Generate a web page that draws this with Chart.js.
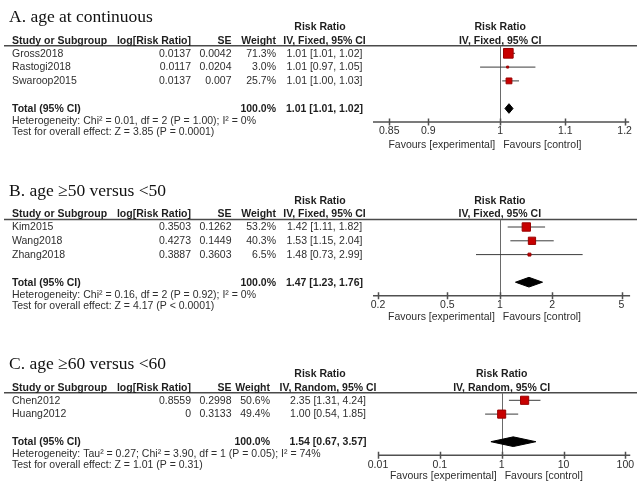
<!DOCTYPE html>
<html>
<head>
<meta charset="utf-8">
<script src="https://cdn.jsdelivr.net/npm/chart.js@4.4.1/dist/chart.umd.min.js"></script>
<style>
  html, body { margin: 0; padding: 0; background: #fff; }
  #wrap { position: relative; width: 637px; height: 483px; overflow: hidden; background: #fff; }
  #wrap canvas { position: absolute; left: 0; }
</style>
</head>
<body>
<div id="wrap">
  <canvas id="panelA" width="637" height="160" style="top:0px"></canvas>
  <canvas id="panelB" width="637" height="165" style="top:160px"></canvas>
  <canvas id="panelC" width="637" height="158" style="top:325px"></canvas>
</div>
<script>
// ---- A. age as a continuous variable ----
const studiesA = ['Gross2018', 'Rastogi2018', 'Swaroop2015'];
const logRrA = [0.0137, 0.0117, 0.0137];
const seA = [0.0042, 0.0204, 0.007];
const weightA = [71.3, 3.0, 25.7];
const rrA = [1.012, 1.011, 1.013];
const lowerA = [1.006, 0.971, 1.003];
const upperA = [1.022, 1.053, 1.028];
const totalA = [1.013, 1.007, 1.019];       // pooled estimate, lower, upper
const ticksA = [0.85, 0.9, 1, 1.1, 1.2];
const hetA = 'Heterogeneity: Chi² = 0.01, df = 2 (P = 1.00); I² = 0%';
const overallA = 'Test for overall effect: Z = 3.85 (P = 0.0001)';

// ---- B. age >=50 versus <50 ----
const studiesB = ['Kim2015', 'Wang2018', 'Zhang2018'];
const logRrB = [0.3503, 0.4273, 0.3887];
const seB = [0.1262, 0.1449, 0.3603];
const weightB = [53.2, 40.3, 6.5];
const rrB = [1.42, 1.53, 1.48];
const lowerB = [1.11, 1.15, 0.73];
const upperB = [1.82, 2.04, 2.99];
const totalB = [1.47, 1.23, 1.76];
const ticksB = [0.2, 0.5, 1, 2, 5];
const hetB = 'Heterogeneity: Chi² = 0.16, df = 2 (P = 0.92); I² = 0%';
const overallB = 'Test for overall effect: Z = 4.17 (P < 0.0001)';

// ---- C. age >=60 versus <60 ----
const studiesC = ['Chen2012', 'Huang2012'];
const logRrC = [0.8559, 0];
const seC = [0.2998, 0.3133];
const weightC = [50.6, 49.4];
const rrC = [2.35, 1.00];
const lowerC = [1.31, 0.54];
const upperC = [4.24, 1.85];
const totalC = [1.54, 0.67, 3.57];
const ticksC = [0.01, 0.1, 1, 10, 100];
const hetC = 'Heterogeneity: Tau² = 0.27; Chi² = 3.90, df = 1 (P = 0.05); I² = 74%';
const overallC = 'Test for overall effect: Z = 1.01 (P = 0.31)';

const ROW_PX = 13.8;          // height of one table row
const SANS = '"Liberation Sans", Arial, sans-serif';
const TEXT = '#2e2e2e';
const INK = '#1e1e1e';

function fmt2(v) { return v.toFixed(2); }
function ciLabel(est, lo, hi) { return fmt2(est) + ' [' + fmt2(lo) + ', ' + fmt2(hi) + ']'; }

function forestPanel(canvasId, cfg) {
  const canvas = document.getElementById(canvasId);
  const H = canvas.height;
  const n = cfg.studies.length;
  const totalRow = n + 2;
  const lineRow = 0.45;
  const axisRow = totalRow + 0.98;
  const padTop = cfg.base + lineRow * ROW_PX;
  const padBottom = H - (cfg.base + axisRow * ROW_PX);

  const datasets = [];
  // confidence interval whiskers
  cfg.studies.forEach((s, i) => {
    datasets.push({
      data: [{ x: cfg.lower[i], y: i + 1 }, { x: cfg.upper[i], y: i + 1 }],
      borderColor: '#3c3c3c', borderWidth: 1, pointRadius: 0,
      showLine: true, fill: false, order: 3
    });
  });
  // study weight squares
  datasets.push({
    data: cfg.rr.map((v, i) => ({ x: v, y: i + 1 })),
    showLine: false,
    pointStyle: 'rect',
    pointRadius: cfg.weight.map(w => Math.max(1.2, 0.81 * Math.sqrt(w))),
    pointBackgroundColor: '#c80000',
    pointBorderColor: '#990000',
    pointBorderWidth: 1,
    order: 1
  });
  // pooled estimate diamond
  const [est, lo, hi] = cfg.total;
  const h = 0.35;
  datasets.push({
    data: [
      { x: lo, y: totalRow }, { x: est, y: totalRow - h },
      { x: hi, y: totalRow }, { x: est, y: totalRow + h },
      { x: lo, y: totalRow }
    ],
    showLine: true, tension: 0, pointRadius: 0,
    borderColor: '#000', borderWidth: 1,
    backgroundColor: '#000', fill: 'shape',
    order: 1
  });

  const frame = {
    id: 'forestFrame',
    beforeDatasetsDraw(chart) {
      const { ctx, chartArea: a, scales: { x } } = chart;
      const x1 = x.getPixelForValue(1);
      ctx.save();
      // header rule across the whole table
      ctx.strokeStyle = '#4a4a4a';
      ctx.lineWidth = 1.5;
      ctx.beginPath();
      ctx.moveTo(4, a.top); ctx.lineTo(637, a.top);
      ctx.stroke();
      // line of no effect
      ctx.strokeStyle = '#6a6a6a';
      ctx.lineWidth = 1;
      ctx.beginPath();
      ctx.moveTo(Math.round(x1) + 0.5, a.top); ctx.lineTo(Math.round(x1) + 0.5, a.bottom);
      ctx.stroke();
      // horizontal axis with ticks crossing it
      ctx.strokeStyle = '#505050';
      ctx.lineWidth = 1.5;
      ctx.beginPath();
      ctx.moveTo(a.left, a.bottom); ctx.lineTo(a.right, a.bottom);
      cfg.ticks.forEach(t => {
        const px = Math.round(x.getPixelForValue(t)) + 0.5;
        ctx.moveTo(px, a.bottom - 3.5); ctx.lineTo(px, a.bottom + 3.5);
      });
      ctx.stroke();
      ctx.restore();
    },
    afterDraw(chart) {
      const { ctx, chartArea: a, scales: { x, y } } = chart;
      const yr = r => y.getPixelForValue(r);
      const x1 = x.getPixelForValue(1);
      const put = (str, px, py, align, font, color) => {
        ctx.font = font; ctx.fillStyle = color;
        ctx.textAlign = align; ctx.textBaseline = 'middle';
        ctx.fillText(str, px, py);
      };
      const reg = '10.5px ' + SANS;
      const bold = 'bold 10.5px ' + SANS;
      ctx.save();
      // panel title
      put(cfg.title, 9, yr(-1.6), 'left', '17.5px "Liberation Serif", "Times New Roman", serif', '#111');
      // group headers
      put('Risk Ratio', 320, yr(-0.87), 'center', bold, INK);
      put('Risk Ratio', x1, yr(-0.87), 'center', bold, INK);
      // column headers
      const hy = yr(0.1);
      put('Study or Subgroup', 12, hy, 'left', bold, INK);
      put('log[Risk Ratio]', 191, hy, 'right', bold, INK);
      put('SE', 231.5, hy, 'right', bold, INK);
      put('Weight', cfg.weightRight, hy, 'right', bold, INK);
      put(cfg.method, cfg.ciCenter, hy, 'center', bold, INK);
      put(cfg.method, x1, hy, 'center', bold, INK);
      // study rows
      cfg.studies.forEach((s, i) => {
        const ry = yr(i + 1) + 0.5;
        put(s, 12, ry, 'left', reg, TEXT);
        put(String(cfg.logRr[i]), 191, ry, 'right', reg, TEXT);
        put(String(cfg.se[i]), 231.5, ry, 'right', reg, TEXT);
        put(cfg.weight[i].toFixed(1) + '%', cfg.weightRight, ry, 'right', reg, TEXT);
        put(ciLabel(cfg.rr[i], cfg.lower[i], cfg.upper[i]), cfg.ciCenter, ry, 'center', reg, TEXT);
      });
      // pooled row
      const ty = yr(totalRow) + 0.5;
      put('Total (95% CI)', 12, ty, 'left', bold, INK);
      put('100.0%', cfg.weightRight, ty, 'right', bold, INK);
      put(ciLabel(est, lo, hi), cfg.ciCenter, ty, 'center', bold, INK);
      put(cfg.het, 12, yr(totalRow + 0.9), 'left', reg, TEXT);
      put(cfg.overall, 12, yr(totalRow + 1.72), 'left', reg, TEXT);
      // axis tick labels and direction captions
      cfg.ticks.forEach(t => put(String(t), x.getPixelForValue(t), a.bottom + 9.5, 'center', reg, TEXT));
      put('Favours [experimental]', x1 - 5, a.bottom + cfg.captionGap, 'right', reg, TEXT);
      put('Favours [control]', x1 + 3, a.bottom + cfg.captionGap, 'left', reg, TEXT);
      ctx.restore();
    }
  };

  return new Chart(canvas, {
    type: 'line',
    data: { datasets },
    options: {
      responsive: false,
      animation: false,
      events: [],
      layout: { padding: { left: cfg.plotLeft, right: 637 - cfg.plotRight, top: padTop, bottom: padBottom } },
      scales: {
        x: { type: 'logarithmic', min: cfg.xMin, max: cfg.xMax, display: false },
        y: { type: 'linear', reverse: true, min: lineRow, max: axisRow, display: false }
      },
      plugins: { legend: { display: false }, tooltip: { enabled: false } }
    },
    plugins: [frame]
  });
}

forestPanel('panelA', {
  title: 'A. age at continuous', method: 'IV, Fixed, 95% CI',
  studies: studiesA, logRr: logRrA, se: seA, weight: weightA,
  rr: rrA, lower: lowerA, upper: upperA, total: totalA, ticks: ticksA,
  het: hetA, overall: overallA,
  base: 39.5, xMin: 0.832, xMax: 1.208, plotLeft: 373, plotRight: 636,
  weightRight: 276, ciCenter: 324.5, captionGap: 23.5
});

forestPanel('panelB', {
  title: 'B. age \u226550 versus <50', method: 'IV, Fixed, 95% CI',
  studies: studiesB, logRr: logRrB, se: seB, weight: weightB,
  rr: rrB, lower: lowerB, upper: upperB, total: totalB, ticks: ticksB,
  het: hetB, overall: overallB,
  base: 53.2, xMin: 0.187, xMax: 5.6, plotLeft: 373, plotRight: 636,
  weightRight: 276, ciCenter: 324.5, captionGap: 21.5
});

forestPanel('panelC', {
  title: 'C. age \u226560 versus <60', method: 'IV, Random, 95% CI',
  studies: studiesC, logRr: logRrC, se: seC, weight: weightC,
  rr: rrC, lower: lowerC, upper: upperC, total: totalC, ticks: ticksC,
  het: hetC, overall: overallC,
  base: 61.5, xMin: 0.01, xMax: 120, plotLeft: 378, plotRight: 636,
  weightRight: 270, ciCenter: 328, captionGap: 20.5
});
</script>
</body>
</html>
